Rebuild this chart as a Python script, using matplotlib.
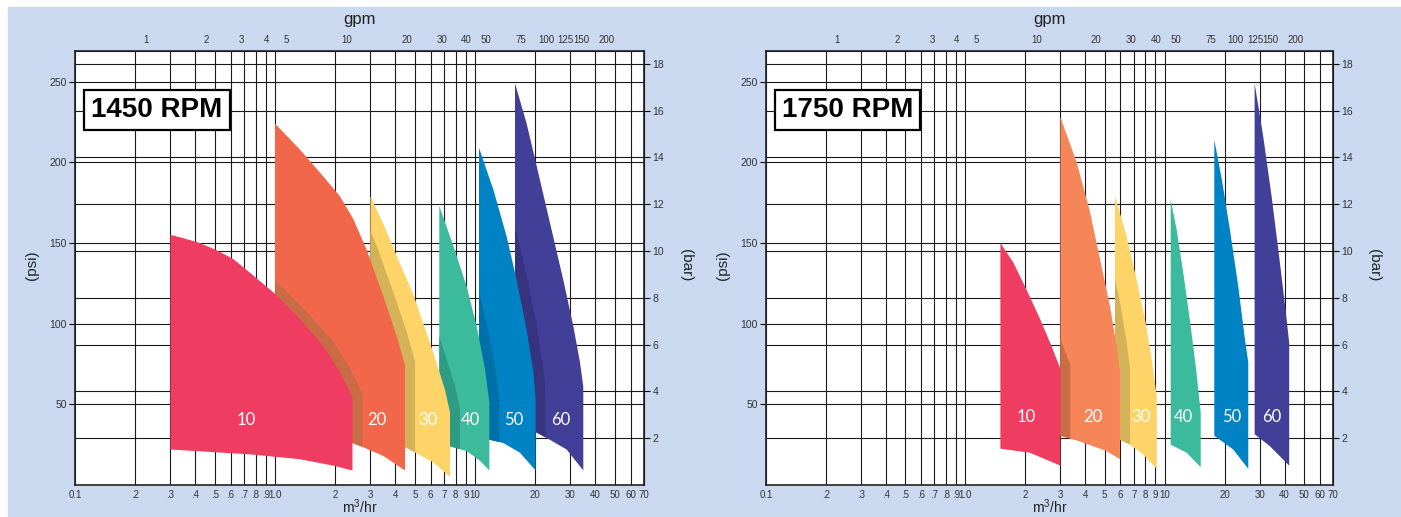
import matplotlib
matplotlib.use('Agg')
import matplotlib.pyplot as plt
from matplotlib.patches import Polygon, Rectangle
from matplotlib.ticker import NullLocator
from matplotlib.transforms import offset_copy

plt.rcParams['font.family'] = ['Liberation Sans', 'DejaVu Sans']
plt.rcParams['mathtext.default'] = 'regular'

PSI_PER_BAR = 14.5038
M3_PER_GPM = 0.2271

# 축 눈금
flow_ticks = [0.1, 0.2, 0.3, 0.4, 0.5, 0.6, 0.7, 0.8, 0.9, 1.0,
              2, 3, 4, 5, 6, 7, 8, 9, 10, 20, 30, 40, 50, 60, 70]
flow_labels = ['0.1', '.2', '.3', '.4', '.5', '.6', '.7', '.8', '.9', '1.0',
               '2', '3', '4', '5', '6', '7', '8', '9', '10',
               '20', '30', '40', '50', '60', '70']
gpm_ticks = [1, 2, 3, 4, 5, 10, 20, 30, 40, 50, 75, 100, 125, 150, 200]
psi_ticks = [50, 100, 150, 200, 250]
bar_ticks = [2, 4, 6, 8, 10, 12, 14, 16, 18]

sizes = ['10', '20', '30', '40', '50', '60']

# 1450 RPM : (top flow, top psi, bottom flow, bottom psi)
q1450_top = [
    [0.30, 0.348, 0.42, 0.511, 0.62, 0.75, 0.99, 1.33, 1.75, 2.11, 2.44],
    [1.0, 1.33, 1.75, 2.11, 2.46, 2.87, 3.48, 4.07, 4.47],
    [3.0, 3.48, 4.06, 4.92, 6.19, 7.08, 7.5],
    [6.63, 7.8, 9.09, 10.19, 11.22, 11.8],
    [10.47, 12.36, 14.4, 16.16, 18.13, 19.58, 20.1],
    [15.85, 18.13, 21.13, 24.17, 27.65, 31.02, 33.5, 34.8],
]
p1450_top = [
    [155, 153, 150, 145.5, 140, 131.5, 119, 103, 86, 70, 54],
    [224, 208, 191, 179, 165, 146, 117, 92, 74],
    [179, 162, 142, 118, 82, 59, 45],
    [173, 148, 123, 98.5, 72, 51],
    [209, 183, 154, 127, 96, 70, 53],
    [249, 224, 189, 158, 127, 98.5, 76, 61],
]
q1450_bot = [
    [0.30, 0.75, 1.33, 1.96, 2.44],
    [1.0, 1.6, 2.44, 2.75, 3.48, 4.47],
    [3.0, 4.47, 6.2, 7.5],
    [6.63, 7.5, 9.1, 10.6, 11.8],
    [10.47, 11.89, 13.86, 16.79, 20.1],
    [15.85, 20.34, 23.71, 28.72, 34.8],
]
p1450_bot = [
    [22, 19, 16, 12, 9],
    [32, 29.5, 26, 23.5, 18, 9],
    [30, 23.5, 14, 5],
    [26, 24, 21, 15, 9],
    [30, 28, 26, 20, 9],
    [36, 32.5, 28, 22, 9],
]

# 1750 RPM
q1750_top = [
    [1.5, 1.74, 2.03, 2.37, 2.71, 3.0],
    [3.0, 3.62, 4.23, 4.74, 5.32, 5.75, 5.97],
    [5.64, 6.45, 7.24, 7.97, 8.62, 9.13],
    [10.73, 11.51, 12.43, 13.43, 14.39, 15.18],
    [17.76, 19.4, 21.29, 23.43, 25.32, 26.3],
    [28.3, 31.26, 34.43, 37.88, 40.6, 42.2],
]
p1750_top = [
    [150, 138, 121, 103, 86, 72],
    [228, 200, 169, 140, 111, 86, 70],
    [179, 154, 127, 103, 78, 55],
    [177, 158, 131, 101, 72, 45],
    [214, 189, 158, 123, 90, 76],
    [249, 216, 179, 138, 107, 88],
]
q1750_bot = [
    [1.5, 2.11, 3.0],
    [3.0, 3.76, 5.12, 5.97],
    [5.64, 5.97, 6.71, 7.82, 9.13],
    [10.73, 12.91, 15.18],
    [17.76, 22.1, 26.3],
    [28.3, 33.8, 42.2],
]
p1750_bot = [
    [22.5, 20, 12],
    [30.5, 27, 21, 16],
    [30, 28, 25, 19, 10],
    [25, 20, 11],
    [30.5, 22, 10],
    [31.5, 24, 12],
]

# 라벨 위치 (m3/hr)
label_q1450 = [0.72, 3.24, 5.82, 9.44, 15.7, 26.9]
label_q1750 = [2.02, 4.37, 7.61, 12.4, 21.8, 34.6]

colors1450 = ['#EF3D61', '#F2674A', '#FED469', '#3BBB9B', '#0083C5', '#423F99']
colors1750 = ['#EF3D61', '#F68658', '#FED469', '#3BBB9B', '#0083C5', '#423F99']
# 위 모양이 아래 모양에 드리우는 그림자 색
shadow1450 = ['#C96B45', '#D4B25A', '#2E9C82', '#0070A9', '#36347F']
shadow1750 = ['#CA6D47', '#D4B25A', None, None, None]

fig = plt.figure(figsize=(14.01, 5.17), dpi=100)
fig.add_artist(Rectangle((8 / 1401, 0), 1, 1 - 7 / 517, transform=fig.transFigure,
                         color='#CAD9EF', zorder=-10))

ax_l = fig.add_axes([75 / 1401, 32 / 517, 569 / 1401, 434 / 517])
ax_r = fig.add_axes([766 / 1401, 32 / 517, 567 / 1401, 434 / 517])


def draw_panel(ax, rpm_text, q_top, p_top, q_bot, p_bot, colors, shadows, label_q, label_p):
    ax.set_xscale('log')
    ax.set_xlim(0.1, 70)
    ax.set_ylim(0, 269)
    ax.set_xticks(flow_ticks)
    ax.set_xticklabels(flow_labels)
    ax.xaxis.set_minor_locator(NullLocator())
    ax.set_yticks(psi_ticks)
    ax.tick_params(axis='x', length=0, pad=3.5, labelsize=7, labelcolor='#333333')
    ax.tick_params(axis='y', length=4, width=0.8, pad=2, labelsize=7.5, labelcolor='#333333')
    ax.set_axisbelow(True)
    ax.grid(True, color='#1a1a1a', lw=0.8)
    for b in bar_ticks:
        ax.axhline(b * PSI_PER_BAR, color='#1a1a1a', lw=0.8, zorder=0.6)
    for s in ax.spines.values():
        s.set_linewidth(1.2)
        s.set_color('#222222')

    top = ax.secondary_xaxis('top', functions=(lambda q: q / M3_PER_GPM, lambda g: g * M3_PER_GPM))
    top.set_xticks(gpm_ticks)
    top.set_xticklabels([str(g) for g in gpm_ticks])
    top.xaxis.set_minor_locator(NullLocator())
    top.tick_params(length=0, pad=4, labelsize=7, labelcolor='#333333')

    right = ax.secondary_yaxis('right', functions=(lambda p: p / PSI_PER_BAR, lambda b: b * PSI_PER_BAR))
    right.set_yticks(bar_ticks)
    right.tick_params(length=4, width=0.8, pad=2, labelsize=7.5, labelcolor='#333333')

    polys = []
    for tq, tp, bq, bp in zip(q_top, p_top, q_bot, p_bot):
        polys.append(list(zip(tq, tp)) + list(zip(bq[::-1], bp[::-1])))

    n = len(polys)
    for i in reversed(range(n)):
        z = 20 - 2 * i
        base = Polygon(polys[i], closed=True, fc=colors[i], ec='none', zorder=z)
        ax.add_patch(base)
        if i > 0 and shadows[i - 1]:
            sh = Polygon(polys[i - 1], closed=True, fc=shadows[i - 1], ec='none', zorder=z + 1,
                         transform=offset_copy(ax.transData, fig=fig, x=10, y=4, units='dots'))
            ax.add_patch(sh)
            sh.set_clip_path(base)

    for name, lq in zip(sizes, label_q):
        ax.text(lq, label_p, name, color='white', fontsize=12, family=['Lato', 'DejaVu Sans'],
                ha='center', va='center', zorder=40)

    ax.text(0.144, 0.864, rpm_text, transform=ax.transAxes, ha='center', va='center',
            fontsize=20, fontweight='bold', zorder=50,
            bbox=dict(boxstyle='square,pad=0.25', fc='white', ec='black', lw=1.6))

    ax.text(0.5, 1.072, 'gpm', transform=ax.transAxes, ha='center', va='center', fontsize=12, color='#222222')
    ax.text(0.5, -0.0645, 'm$^{3}$/hr', transform=ax.transAxes, ha='center', va='baseline',
            fontsize=10, color='#222222')
    ax.text(-0.076, 0.507, '(psi)', transform=ax.transAxes, ha='center', va='center',
            rotation=90, fontsize=11, color='#222222')
    ax.text(1.073, 0.507, '(bar)', transform=ax.transAxes, ha='center', va='center',
            rotation=270, fontsize=11, color='#222222')


draw_panel(ax_l, '1450 RPM', q1450_top, p1450_top, q1450_bot, p1450_bot,
           colors1450, shadow1450, label_q1450, 40.5)
draw_panel(ax_r, '1750 RPM', q1750_top, p1750_top, q1750_bot, p1750_bot,
           colors1750, shadow1750, label_q1750, 42)

fig.savefig('out.png', dpi=100, facecolor='white')
